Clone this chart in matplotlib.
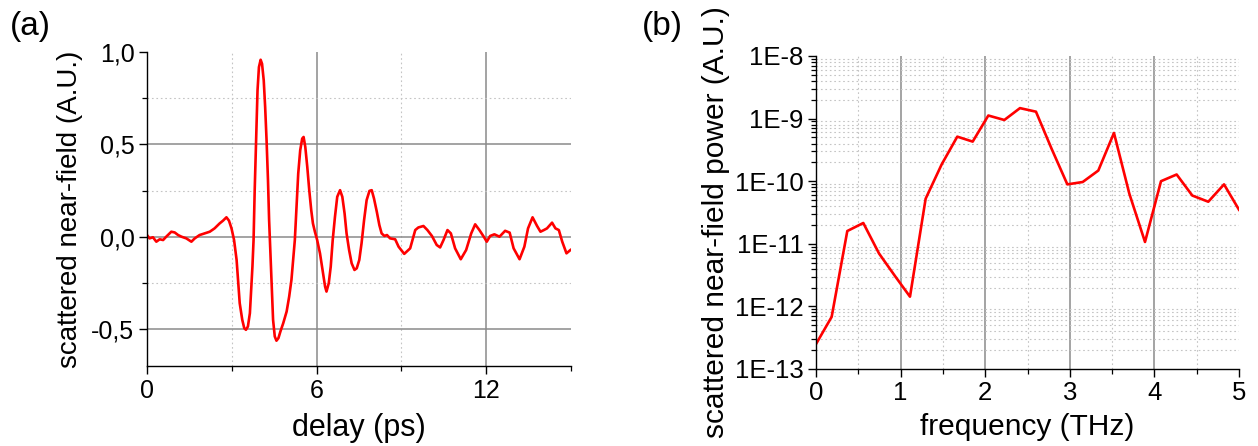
import numpy as np
import matplotlib
matplotlib.use("Agg")
import matplotlib.pyplot as plt
from matplotlib.ticker import FixedLocator, FuncFormatter, LogLocator, NullFormatter

plt.rcParams['font.family'] = ['Liberation Sans', 'DejaVu Sans']

# ---- time-domain near-field signal ----
delay_ps = [0.00, 0.09, 0.21, 0.33, 0.45, 0.57, 0.68, 0.86, 0.98, 1.10, 1.22, 1.39,
            1.57, 1.69, 1.86, 2.04, 2.22, 2.39, 2.57, 2.69, 2.81, 2.90, 2.99, 3.08,
            3.17, 3.22, 3.28, 3.37, 3.44, 3.50, 3.57, 3.64, 3.68, 3.73, 3.77, 3.81,
            3.86, 3.91, 3.96, 4.02, 4.07, 4.13, 4.18, 4.23, 4.28, 4.32, 4.37, 4.42,
            4.46, 4.52, 4.58, 4.65, 4.72, 4.82, 4.94, 5.03, 5.11, 5.17, 5.23, 5.29,
            5.35, 5.42, 5.49, 5.54, 5.60, 5.67, 5.74, 5.81, 5.87, 5.94, 6.02, 6.12,
            6.21, 6.30, 6.35, 6.43, 6.50, 6.57, 6.65, 6.73, 6.83, 6.91, 6.99, 7.06,
            7.15, 7.24, 7.34, 7.42, 7.51, 7.59, 7.68, 7.77, 7.87, 7.95, 8.03, 8.13,
            8.22, 8.30, 8.40, 8.49, 8.60, 8.78, 8.90, 9.10, 9.31, 9.49, 9.60, 9.78,
            9.92, 10.08, 10.25, 10.37, 10.49, 10.63, 10.75, 10.90, 11.10, 11.29,
            11.47, 11.61, 11.76, 11.93, 12.02, 12.14, 12.29, 12.47, 12.67, 12.83,
            12.97, 13.18, 13.35, 13.48, 13.64, 13.80, 13.92, 14.04, 14.15, 14.33,
            14.45, 14.57, 14.69, 14.84, 14.98]
field = [0.009, -0.009, -0.003, -0.027, -0.014, -0.018, 0.000, 0.027, 0.023, 0.009,
         0.000, -0.009, -0.027, -0.009, 0.009, 0.018, 0.027, 0.045, 0.072, 0.087,
         0.105, 0.087, 0.045, -0.018, -0.126, -0.234, -0.360, -0.450, -0.495, -0.504,
         -0.486, -0.414, -0.306, -0.162, -0.018, 0.252, 0.522, 0.792, 0.918, 0.958,
         0.936, 0.846, 0.702, 0.522, 0.306, 0.090, -0.108, -0.306, -0.450, -0.540,
         -0.563, -0.549, -0.513, -0.468, -0.405, -0.324, -0.234, -0.126, -0.018,
         0.162, 0.342, 0.468, 0.531, 0.540, 0.486, 0.378, 0.252, 0.144, 0.072, 0.027,
         -0.018, -0.090, -0.180, -0.270, -0.297, -0.252, -0.162, -0.018, 0.108,
         0.216, 0.252, 0.216, 0.126, 0.018, -0.072, -0.144, -0.180, -0.171, -0.126,
         -0.036, 0.090, 0.198, 0.248, 0.252, 0.207, 0.135, 0.063, 0.018, 0.004,
         0.009, -0.009, -0.014, -0.054, -0.093, -0.063, 0.036, 0.050, 0.058, 0.036,
         0.004, -0.045, -0.058, -0.018, 0.036, 0.018, -0.063, -0.122, -0.072, 0.018,
         0.067, 0.036, -0.004, -0.027, 0.004, 0.013, 0.000, 0.032, 0.022, -0.063,
         -0.122, -0.054, 0.045, 0.105, 0.058, 0.027, 0.036, 0.045, 0.076, 0.045,
         0.036, -0.027, -0.090, -0.072]

# ---- power spectrum ----
freq_thz = [0.000, 0.185, 0.370, 0.559, 0.745, 0.934, 1.111, 1.296, 1.485, 1.670,
            1.852, 2.037, 2.226, 2.411, 2.600, 2.786, 2.971, 3.152, 3.337, 3.522,
            3.704, 3.889, 4.078, 4.263, 4.448, 4.637, 4.823, 5.000]
power = [2.5e-13, 6.8e-13, 1.6e-11, 2.15e-11, 7.0e-12, 3.05e-12, 1.43e-12, 5.25e-11,
         1.85e-10, 5.15e-10, 4.29e-10, 1.12e-9, 9.5e-10, 1.47e-9, 1.29e-9, 3.27e-10,
         8.9e-11, 9.7e-11, 1.48e-10, 5.9e-10, 6.3e-11, 1.07e-11, 1.0e-10, 1.28e-10,
         5.9e-11, 4.7e-11, 8.9e-11, 3.5e-11]

field_ticks = [-0.5, 0.0, 0.5, 1.0]
field_minor = [-0.25, 0.25, 0.75]
delay_ticks = [0, 6, 12]
delay_minor = [3, 9, 15]
freq_ticks = [0, 1, 2, 3, 4, 5]
freq_minor = [0.5, 1.5, 2.5, 3.5, 4.5]

LINE_RED = '#ff0000'
MAJOR_GRID = dict(color='#8a8a8a', linewidth=1.1, linestyle='-')
MINOR_GRID = dict(color='#c4c4c4', linewidth=0.8, linestyle=(0, (1.5, 2.5)))

fig = plt.figure(figsize=(12.58, 4.46), dpi=100)
W, H = 1258, 446
ax_a = fig.add_axes([147 / W, (H - 366) / H, 424 / W, 314 / H])
ax_b = fig.add_axes([816 / W, (H - 369) / H, 423 / W, 313 / H])


def style_axes(ax, tick_fs):
    for side in ('top', 'right'):
        ax.spines[side].set_visible(False)
    for side in ('left', 'bottom'):
        ax.spines[side].set_linewidth(1.0)
        ax.spines[side].set_color('black')
    ax.tick_params(which='major', direction='out', length=6, width=1.0,
                   labelsize=tick_fs, pad=3)
    ax.tick_params(which='minor', direction='out', length=3.5, width=0.9)
    ax.set_axisbelow(True)


def hide_edge_grid(axis, lo, hi, which):
    ticks = axis.get_major_ticks() if which == 'major' else axis.get_minor_ticks()
    locs = axis.get_majorticklocs() if which == 'major' else axis.get_minorticklocs()
    for tk, loc in zip(ticks, locs):
        if np.isclose(loc, lo) or np.isclose(loc, hi):
            tk.gridline.set_visible(False)


# (a) time-domain trace
ax_a.plot(delay_ps, field, color=LINE_RED, lw=1.9, solid_joinstyle='round')
ax_a.set_xlim(0, 15)
ax_a.set_ylim(-0.7, 1.0)
ax_a.xaxis.set_major_locator(FixedLocator(delay_ticks))
ax_a.xaxis.set_minor_locator(FixedLocator(delay_minor))
ax_a.yaxis.set_major_locator(FixedLocator(field_ticks))
ax_a.yaxis.set_minor_locator(FixedLocator(field_minor))
ax_a.yaxis.set_major_formatter(FuncFormatter(lambda v, p: f"{v:.1f}".replace('.', ',')))
style_axes(ax_a, 18)
ax_a.grid(True, which='major', **MAJOR_GRID)
ax_a.grid(True, which='minor', **MINOR_GRID)
hide_edge_grid(ax_a.xaxis, 0, 15, 'major')
hide_edge_grid(ax_a.xaxis, 0, 15, 'minor')
hide_edge_grid(ax_a.yaxis, -0.7, 1.0, 'major')
ax_a.set_xlabel('delay (ps)', fontsize=22, va='top')
ax_a.xaxis.set_label_coords(0.5, -0.15)
ax_a.set_ylabel('scattered near-field (A.U.)', fontsize=20)
ax_a.yaxis.set_label_coords(-0.151, 0.5)

# (b) spectrum
ax_b.plot(freq_thz, power, color=LINE_RED, lw=1.9, solid_joinstyle='round')
ax_b.set_yscale('log')
ax_b.set_xlim(0, 5)
ax_b.set_ylim(1e-13, 1e-8)
ax_b.xaxis.set_major_locator(FixedLocator(freq_ticks))
ax_b.xaxis.set_minor_locator(FixedLocator(freq_minor))
ax_b.yaxis.set_major_locator(LogLocator(base=10, numticks=10))
ax_b.yaxis.set_minor_locator(LogLocator(base=10, subs=np.arange(2, 10), numticks=20))
ax_b.yaxis.set_minor_formatter(NullFormatter())
ax_b.yaxis.set_major_formatter(FuncFormatter(lambda v, p: f"1E{int(round(np.log10(v)))}"))
style_axes(ax_b, 18.5)
ax_b.grid(True, which='major', **MAJOR_GRID)
ax_b.grid(True, which='minor', **MINOR_GRID)
hide_edge_grid(ax_b.xaxis, 0, 5, 'major')
hide_edge_grid(ax_b.yaxis, 1e-13, 1e-8, 'major')
ax_b.set_xlabel('frequency (THz)', fontsize=21.5, va='top')
ax_b.xaxis.set_label_coords(0.5, -0.141)
ax_b.set_ylabel('scattered near-field power (A.U.)', fontsize=21.5)
ax_b.yaxis.set_label_coords(-0.203, 0.47)

fig.text(10 / W, 1 - 35 / H, '(a)', fontsize=24, ha='left', va='baseline')
fig.text(642 / W, 1 - 35 / H, '(b)', fontsize=24, ha='left', va='baseline')

fig.savefig('out.png', dpi=100)
